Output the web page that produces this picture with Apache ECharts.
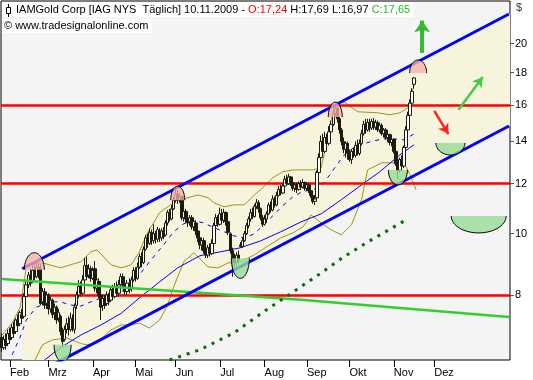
<!DOCTYPE html>
<html><head><meta charset="utf-8">
<script src="https://cdn.jsdelivr.net/npm/echarts@6/dist/echarts.min.js"></script>
<style>html,body{margin:0;padding:0;background:#fff}#c{width:533px;height:380px}</style>
</head><body><div id="c"></div>
<script>
// ---- data ----
const monthLabels = ['Feb','Mrz','Apr','Mai','Jun','Jul','Aug','Sep','Okt','Nov','Dez'];
const monthStartIdx = [4,23,45,66,86,108,130,151,172,194,214];
const barCount = 252;
const yTicks = [8,10,12,14,16,18,20];
const hLines = [16,12,8];
// [open, close, low, high]
const candles = [
[6.85,6.6,6.5,6.95],[6.6,6.8,6.55,6.9],[6.8,6.65,6.55,6.95],[6.7,6.95,6.65,7.05],[6.95,6.8,6.7,7.1],
[6.85,7.1,6.8,7.2],[7.1,6.95,6.85,7.25],[7.0,7.3,6.95,7.35],[7.3,7.15,7.05,7.45],[7.2,7.5,7.15,7.55],
[7.45,7.35,7.25,7.6],[7.4,7.95,7.35,8.05],[7.95,8.3,7.9,8.45],[8.3,8.6,8.2,8.7],[8.6,8.35,8.25,8.8],
[8.4,8.75,8.35,8.95],[8.75,8.55,8.45,9.0],[8.55,8.85,8.5,9.05],[8.85,8.6,8.5,9.0],[8.8,7.75,7.7,8.95],
[7.8,8.1,7.7,8.2],[8.1,7.7,7.6,8.2],[7.75,8.0,7.6,8.1],[8.0,7.6,7.45,8.05],[7.6,7.85,7.5,7.95],
[7.85,7.45,7.35,7.9],[7.5,7.65,7.3,7.75],[7.65,7.3,7.2,7.7],[7.35,7.5,7.25,7.6],[7.4,7.0,6.9,7.45],
[7.0,6.75,6.6,7.1],[6.8,7.05,6.75,7.15],[7.05,7.2,6.95,7.35],[7.2,7.05,6.9,7.4],[7.05,7.35,7.0,7.5],
[7.3,7.1,7.0,7.45],[7.05,7.65,6.95,7.75],[7.7,8.0,7.6,8.1],[8.0,8.25,7.9,8.45],[8.25,8.05,7.95,8.4],
[8.05,8.45,8.0,8.6],[8.45,8.9,8.35,9.15],[8.9,8.55,8.45,9.2],[8.6,8.8,8.5,8.95],[8.8,8.5,8.4,8.9],
[8.5,8.75,8.45,8.85],[8.8,8.2,8.1,9.05],[8.2,8.45,8.05,8.6],[8.4,8.0,7.9,8.5],[8.0,7.65,7.3,8.1],
[7.7,7.9,7.55,8.0],[7.9,7.7,7.6,8.0],[7.75,8.0,7.7,8.1],[8.0,7.8,7.7,8.05],[7.85,8.15,7.8,8.25],
[8.15,7.95,7.85,8.3],[7.95,8.25,7.9,8.35],[8.25,8.05,7.95,8.4],[8.05,8.3,7.95,8.45],[8.3,8.55,8.2,8.65],
[8.55,8.3,8.2,8.65],[8.3,8.1,8.0,8.4],[8.1,8.35,8.0,8.45],[8.35,8.15,8.05,8.5],[8.2,8.45,8.1,8.55],
[8.45,8.75,8.4,8.85],[8.75,8.5,8.4,8.85],[8.5,8.85,8.45,9.0],[8.85,9.2,8.8,9.3],[9.2,9.0,8.85,9.35],
[9.0,9.45,8.95,9.55],[9.45,9.85,9.4,9.95],[9.85,9.65,9.5,10.0],[9.65,10.05,9.6,10.2],[10.05,9.75,9.6,10.15],
[9.75,10.0,9.65,10.35],[10.0,9.8,9.65,10.1],[9.8,10.15,9.7,10.25],[10.1,9.85,9.7,10.2],[9.85,10.1,9.75,10.2],
[10.1,9.9,9.8,10.25],[9.95,10.4,9.9,10.5],[10.4,10.8,10.3,10.9],[10.8,10.55,10.45,10.95],[10.55,10.95,10.5,11.1],
[10.95,11.3,10.9,11.45],[11.3,11.55,11.2,11.8],[11.55,11.3,11.15,11.7],[11.3,11.45,11.2,11.6],[11.45,10.6,10.5,11.5],
[10.6,10.85,10.45,10.95],[10.85,10.55,10.4,10.95],[10.55,10.4,10.25,10.7],[10.45,10.6,10.3,10.7],[10.6,10.25,10.15,10.7],
[10.25,10.45,10.1,10.55],[10.4,10.1,9.95,10.5],[10.1,9.85,9.7,10.2],[9.85,9.6,9.45,9.95],[9.6,9.75,9.4,9.85],
[9.75,9.4,9.3,9.85],[9.4,9.25,9.15,9.55],[9.25,9.5,9.15,9.6],[9.5,9.3,9.2,9.65],[9.3,9.65,9.25,9.8],
[9.65,10.3,9.6,10.4],[10.3,10.6,10.2,10.75],[10.6,10.35,10.25,10.7],[10.35,10.75,10.3,11.0],[10.75,10.5,10.4,10.95],
[10.5,10.8,10.4,10.95],[10.8,10.45,10.3,10.85],[10.45,10.05,9.95,10.5],[10.0,9.4,9.3,10.05],[9.4,9.1,8.55,9.5],
[9.15,9.0,8.85,9.3],[9.0,9.25,8.9,9.35],[9.25,9.1,9.0,9.4],[9.6,9.55,9.5,9.7],[9.55,9.75,9.5,9.85],
[9.75,10.0,9.7,10.1],[10.0,10.3,9.95,10.4],[10.3,10.55,10.2,10.65],[10.55,10.8,10.45,10.95],[10.8,10.65,10.55,11.0],
[10.65,11.05,10.6,11.15],[11.05,11.2,10.95,11.35],[11.2,10.95,10.8,11.3],[10.95,10.6,10.5,11.0],[10.6,10.35,10.25,10.7],
[10.35,10.55,10.3,10.7],[10.55,10.75,10.4,10.85],[10.75,11.1,10.7,11.2],[11.1,10.9,10.8,11.25],[10.9,11.35,10.85,11.5],
[11.35,11.1,11.0,11.45],[11.1,11.5,11.05,11.65],[11.5,11.75,11.45,11.9],[11.75,11.6,11.5,11.95],[11.6,11.9,11.55,12.0],
[11.9,12.2,11.85,12.35],[12.2,12.0,11.9,12.4],[12.0,12.3,11.95,12.45],[12.3,12.05,11.9,12.35],[12.05,11.8,11.7,12.1],
[11.8,11.95,11.65,12.05],[11.95,11.75,11.6,12.05],[11.75,12.0,11.7,12.1],[12.0,11.85,11.75,12.15],[11.85,12.05,11.8,12.2],
[12.05,11.8,11.7,12.1],[11.8,11.95,11.7,12.05],[11.95,11.7,11.6,12.05],[11.7,11.5,11.4,11.8],[11.5,11.25,11.15,11.6],
[11.25,11.35,11.1,11.45],[11.4,12.5,11.3,12.6],[12.5,13.2,12.4,13.4],[13.2,14.0,13.0,14.3],[14.0,13.5,13.3,14.4],
[13.5,14.2,13.4,14.5],[14.2,13.9,13.7,14.4],[13.9,14.5,13.8,14.8],[14.5,14.9,14.3,15.1],[14.9,15.5,14.8,15.8],
[15.5,15.8,15.3,16.1],[15.8,15.2,15.0,15.9],[15.2,14.6,14.4,15.3],[14.6,14.0,13.8,14.7],[14.0,13.6,13.4,14.2],
[13.6,13.9,13.2,14.0],[13.9,13.4,13.1,14.0],[13.4,13.1,13.0,13.6],[13.1,13.5,12.9,13.6],[13.5,13.3,13.2,13.7],
[13.3,13.8,13.2,14.0],[13.8,13.4,13.3,14.1],[13.4,13.9,13.3,14.1],[13.9,14.4,13.8,14.6],[14.4,14.9,14.3,15.1],
[14.9,14.6,14.4,15.2],[14.6,15.0,14.5,15.2],[15.0,14.7,14.5,15.2],[14.7,15.05,14.6,15.2],[15.05,14.75,14.6,15.25],
[14.75,15.0,14.6,15.15],[15.0,14.6,14.5,15.1],[14.6,14.85,14.45,15.0],[14.85,14.4,14.3,14.95],[14.4,14.6,14.2,14.7],
[14.6,14.2,14.1,14.7],[14.2,14.35,13.95,14.45],[14.35,13.95,13.8,14.4],[13.95,14.1,13.75,14.2],[14.1,13.5,13.4,14.15],
[13.5,12.9,12.8,13.6],[12.9,12.6,12.2,13.0],[12.6,13.1,12.5,13.2],[13.1,12.8,12.6,13.3],[12.8,13.7,12.7,13.8],
[13.7,14.6,13.6,14.8],[14.6,15.4,14.5,15.6],[15.4,16.1,15.3,16.3],[16.1,16.8,16.0,17.0],[17.24,17.65,16.97,17.69]
];
// [barIndex, price]
const bbUpper = [[0,6.91],[5,7.22],[9,7.65],[12,8.83],[15,8.99],[20,8.99],[29,8.83],[34,8.93],[39,9.03],[44,9.36],[47,9.43],[54,8.93],[59,8.83],[64,8.93],[68,9.36],[72,10.03],[75,10.4],[78,10.79],[82,11.03],[87,11.32],[92,11.4],[97,11.52],[102,11.4],[105,11.19],[110,11.03],[115,11.11],[120,11.11],[125,11.52],[129,11.82],[134,12.26],[139,12.53],[144,12.62],[149,12.62],[154,12.62],[158,12.72],[160,13.58],[163,15.15],[165,16.12],[170,16.12],[176,15.6],[186,15.54],[192,15.43],[197,15.54],[201,15.83],[203,16.78],[205,17.5]];
const bbLower = [[14,6.09],[20,6.67],[25,6.79],[32,6.84],[39,6.7],[42,6.67],[47,6.72],[50,6.86],[54,7.04],[59,7.17],[64,7.17],[68,7.22],[73,7.09],[78,7.3],[82,7.71],[85,8.24],[90,9.03],[95,9.33],[102,8.86],[107,8.83],[112,8.99],[118,9.03],[125,9.26],[131,9.53],[138,9.85],[144,10.03],[149,10.25],[153,10.71],[158,10.4],[163,10.14],[168,9.96],[173,10.33],[178,11.32],[181,12.62],[188,12.95],[197,12.95],[200,12.77],[202,12.4],[205,11.74]];
const bbMiddle = [[5,6.43],[9,6.86],[12,7.3],[17,7.65],[24,7.8],[29,7.8],[34,7.71],[39,7.68],[44,7.8],[49,7.91],[54,7.97],[59,8.09],[64,8.3],[70,8.77],[75,9.19],[80,9.6],[85,10.07],[90,10.37],[95,10.48],[100,10.4],[105,10.22],[110,10.07],[115,9.92],[120,9.85],[125,10.0],[129,10.29],[134,10.67],[139,11.07],[144,11.44],[149,11.67],[154,11.74],[159,11.99],[164,12.62],[169,13.28],[174,13.68],[179,13.88],[184,14.03],[189,14.13],[194,14.13],[199,14.08],[204,14.39]];
const ma50 = [[21,6.31],[29,6.6],[39,6.91],[49,7.17],[59,7.48],[68,7.91],[78,8.39],[87,8.83],[98,9.23],[108,9.36],[118,9.5],[128,9.74],[138,10.07],[148,10.44],[158,10.75],[168,11.32],[178,11.95],[187,12.53],[197,13.33],[204,13.83]];
const longMa = [[0,8.48],[54,8.24],[98,8.06],[148,7.86],[197,7.63],[251,7.38]];
const dottedLine = [[83,6.31],[98,6.55],[115,6.97],[131,7.58],[143,8.04],[156,8.58],[169,9.18],[181,9.7],[199,10.47]];
const upperChannel = [[10,8.80],[251,22.28]];
const lowerChannel = [[10,5.85],[251,14.81]];
const highMarks = [[16,8.77],[87,11.3],[165,15.3],[206,17.97]];
const lowMarks = [[30,6.67],[118,9.14],[196,12.62],[222,13.92],[236,10.67]];
const upArrow = [[208,19.33],[208,21.75]];
const riseArrow = [[226,15.71],[238,17.71]];
const fallArrow = [[214,15.65],[221,14.38]];

// ---- styles / sizes ----
const FONT = '"Liberation Sans", Arial, sans-serif';
const highSizes = [[10,17],[7,14],[7,15],[8.5,13]];
const lowSizes = [[8.5,17],[9,20],[9.5,15],[14.5,12],[27.5,17]];

const categories = Array.from({length: barCount}, (_, i) => String(i));
const isMonth = (i) => monthStartIdx.indexOf(i) >= 0;

function clipRect(cs){ return {type:'rect', shape:{x:cs.x, y:cs.y, width:cs.width, height:cs.height}}; }

function halfEllipse(sizes, dir, fill){
  return function(params, api){
    const p = api.coord([api.value(0), api.value(1)]);
    const s = sizes[params.dataIndex];
    const pts = [];
    for (let k = 0; k <= 30; k++) {
      const a = Math.PI * k / 30;
      pts.push([p[0] - s[0]*Math.cos(a), p[1] + dir*s[1]*Math.sin(a)]);
    }
    return {type:'group', clipPath: clipRect(params.coordSys), children:[
      {type:'polygon', shape:{points:pts}, style:{fill:fill}},
      {type:'polyline', shape:{points:pts}, style:{stroke:'#000', lineWidth:1, fill:null}}
    ]};
  };
}

function arrowSeries(pts, color, width, size){
  return {type:'line', data:[], silent:true, z:12,
    markLine:{silent:true, symbol:['none','arrow'], symbolSize:size, label:{show:false},
      lineStyle:{color:color, width:width, type:'solid'},
      data:[[{coord:pts[0]},{coord:pts[1]}]]}};
}

function lineSeries(data, style, z){
  return {type:'line', data:data, showSymbol:false, silent:true, z:z||3, lineStyle:style, animation:false};
}

const chart = echarts.init(document.getElementById('c'), null, {renderer:'canvas'});
chart.setOption({
  animation:false,
  backgroundColor:'#ffffff',
  grid:{left:1, right:23, top:1, bottom:20, show:true, backgroundColor:'#f4f4f4', borderColor:'#000', borderWidth:1},
  xAxis:{type:'category', data:categories, boundaryGap:true,
    axisLine:{show:false},
    axisTick:{show:true, alignWithLabel:true, interval:(i)=>isMonth(i), length:7, lineStyle:{color:'#000'}},
    axisLabel:{interval:(i)=>isMonth(i), formatter:(v,i)=>monthLabels[monthStartIdx.indexOf(i)]||'', align:'left', margin:7, fontSize:11, color:'#000', fontFamily:FONT},
    splitLine:{show:false}},
  yAxis:{type:'log', logBase:10, min:6.31, max:23.36, position:'right',
    axisLine:{show:false}, splitLine:{show:false},
    axisTick:{show:true, customValues:yTicks, length:4, lineStyle:{color:'#555'}},
    axisLabel:{customValues:yTicks, margin:5, fontSize:11, color:'#000', fontFamily:FONT}},
  series:[
    {type:'custom', silent:true, z:1, data:[0], renderItem:(params, api)=>{
      const a = api.coord(upperChannel[0]), b = api.coord(upperChannel[1]);
      const d = api.coord(lowerChannel[0]), c = api.coord(lowerChannel[1]);
      const half = api.size([1,0])[0]/2 + 1;
      const su = (b[1]-a[1])/(b[0]-a[0]), sl = (c[1]-d[1])/(c[0]-d[0]);
      const pts = [a, [b[0]+half, b[1]+su*half], [c[0]+half, c[1]+sl*half], d];
      return {type:'polygon', shape:{points:pts}, style:{fill:'#f6f4dd'}, clipPath:clipRect(params.coordSys)};
    }},
    lineSeries(bbUpper, {color:'#9c9420', width:1}, 3),
    lineSeries(bbLower, {color:'#9c9420', width:1}, 3),
    lineSeries(bbMiddle, {color:'#0000ff', width:1, type:[4,5]}, 3),
    lineSeries(ma50, {color:'#0000ff', width:1}, 3),
    {type:'candlestick', data:candles, barWidth:3, z:5, silent:true,
      itemStyle:{color:'#ffffff', color0:'#1c1c0c', borderColor:'#1c1c0c', borderColor0:'#1c1c0c', borderWidth:1}},
    lineSeries(longMa, {color:'#33cc33', width:2.5}, 6),
    lineSeries(dottedLine, {color:'#0a6a0a', width:3, type:[3,6], cap:'butt'}, 6),
    {type:'line', data:[], silent:true, z:7,
      markLine:{silent:true, symbol:['none','none'], label:{show:false}, lineStyle:{color:'#ff0000', width:2.5, type:'solid'},
        data: hLines.map(v=>({yAxis:v}))}},
    lineSeries(upperChannel, {color:'#0000ff', width:3}, 8),
    lineSeries(lowerChannel, {color:'#0000ff', width:3}, 8),
    {type:'custom', silent:true, z:10, data:highMarks, renderItem:halfEllipse(highSizes, -1, 'rgba(246,176,166,0.78)')},
    {type:'custom', silent:true, z:10, data:lowMarks, renderItem:halfEllipse(lowSizes, 1, 'rgba(150,220,150,0.8)')},
    arrowSeries(upArrow, '#33bb33', 4, [12,12]),
    arrowSeries(riseArrow, '#44cc44', 2.5, [9,10]),
    arrowSeries(fallArrow, '#ff2222', 2.5, [9,10])
  ],
  graphic:[
    {type:'text', left:2, top:2, z:100, style:{
      text:'{k|IAMGold Corp [IAG NYS  Täglich] 10.11.2009 - }{r|O:17,24}{k| H:17,69 L:16,97 }{g|C:17,65}',
      font:'11px '+FONT, backgroundColor:'#ffffff', padding:[2,3,2,14],
      rich:{k:{fill:'#000', font:'11px '+FONT}, r:{fill:'#ff0000', font:'11px '+FONT}, g:{fill:'#22bb22', font:'11px '+FONT}}}},
    {type:'text', left:2, top:19, z:100, style:{text:'© www.tradesignalonline.com', font:'11px '+FONT, fill:'#000', backgroundColor:'#ffffff', padding:[1,3,2,2]}},
    {type:'line', z:101, shape:{x1:8.5, y1:4, x2:8.5, y2:17}, style:{stroke:'#000', lineWidth:1}},
    {type:'rect', z:102, shape:{x:6.5, y:7.5, width:4, height:6}, style:{fill:'#fff', stroke:'#000', lineWidth:1}},
    {type:'text', left:516, top:2, z:100, style:{text:'$', font:'11px '+FONT, fill:'#334'}}
  ]
});
</script></body></html>
